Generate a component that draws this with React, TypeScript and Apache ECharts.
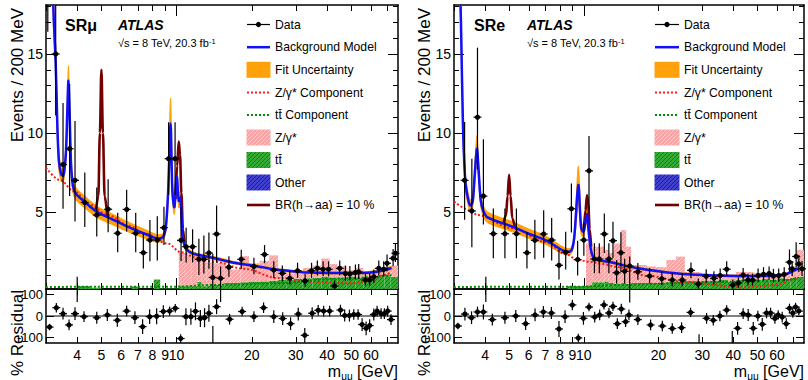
import React, { useEffect, useRef } from "react";
import * as echarts from "echarts";

const FONT = "'Liberation Sans', Arial, Helvetica, sans-serif";

// ---------- axes ----------
const MASS_MIN = 3.0;
const MASS_MAX = 77.0;
const MASS_TICKS = [3, 4, 5, 6, 7, 8, 9, 10, 20, 30, 40, 50, 60, 70];
const MASS_MAJOR_TICKS = [10];
const MASS_LABELS = [4, 5, 6, 7, 8, 9, 10, 20, 30, 40, 50, 60];
const EVENTS_MIN = 0.12;
const EVENTS_MAX = 18.1;
const EVENTS_LABELS = [5, 10, 15];
const EVENTS_MINOR = [1, 2, 3, 4, 6, 7, 8, 9, 11, 12, 13, 14, 16, 17, 18];
const RES_MIN = -127;
const RES_MAX = 127;
const RES_LABELS = [-100, 0, 100];

// ---------- MC histogram binning (GeV) ----------
const BIN_EDGES = [3.0, 4.0, 4.5, 5.0, 6.0, 6.6, 7.0, 8.1, 8.6, 10.2, 10.8, 11.5, 12.1, 12.6, 13.2, 14.1, 14.8, 15.5, 16.5, 18.0, 19.5, 21.5, 23.5, 25.5, 27.5, 29.5, 32.0, 35.0, 38.0, 41.0, 44.0, 48.0, 52.0, 56.0, 60.0, 64.0, 68.0, 72.0, 77.0];

// ================= SRmu =================
const MU_DATA_MASS = [3.05, 3.28, 3.51, 3.73, 3.92, 4.0, 4.29, 4.79, 5.32, 5.81, 6.31, 6.86, 7.36, 7.82, 8.37, 8.9, 9.29, 9.86, 10.42, 10.92, 11.59, 12.28, 12.86, 13.47, 13.96, 14.46, 15.0, 16.2, 18.15, 20.4, 22.5, 24.5, 26.5, 28.4, 30.5, 32.7, 34.7, 36.6, 38.6, 40.6, 42.9, 45.0, 47.4, 49.4, 52.0, 53.6, 57.0, 59.3, 61.6, 64.5, 67.5, 69.6, 73.6, 75.2];
const MU_DATA_VALUE = [21, 15.0, 8.0, 9.0, 7.0, 0.1, 5.6, 4.8, 5.17, 3.65, 5.16, 3.65, 2.42, 3.22, 3.22, 4.0, 8.37, 8.37, 3.2, 2.8, 2.8, 2.0, 2.0, 2.4, 0.85, 3.6, 0.8, 1.5, 2.0, 1.55, 2.3, 1.32, 1.11, 0.8, 1.28, 0.63, 1.28, 1.43, 1.37, 1.37, 0.31, 1.43, 1.1, 1.07, 1.17, 1.2, 0.69, 0.69, 0.9, 1.43, 1.37, 1.75, 2.06, 2.38];
const MU_DATA_ERR_LO = [4.6, 3.9, 2.8, 3.0, 2.6, 0.8, 1.55, 1.35, 1.45, 1.2, 1.4, 1.2, 1.0, 1.35, 1.3, 1.1, 2.3, 2.3, 1.3, 1.0, 1.0, 1.0, 0.9, 1.0, 0.8, 1.8, 1.5, 0.6, 0.6, 0.5, 0.55, 0.5, 0.5, 0.4, 0.45, 0.35, 0.45, 0.45, 0.45, 0.45, 0.25, 0.45, 0.45, 0.4, 0.45, 0.45, 0.35, 0.35, 0.4, 0.45, 0.45, 0.5, 0.5, 0.55];
const MU_DATA_ERR_HI = [4.6, 3.9, 3.9, 4.1, 3.75, 0.8, 1.9, 1.75, 1.9, 1.3, 1.25, 1.3, 1.2, 1.27, 1.5, 1.33, 2.3, 2.3, 2.1, 1.2, 1.1, 1.3, 1.5, 1.3, 1.5, 1.8, 0.75, 0.7, 0.6, 0.55, 0.6, 0.55, 0.5, 0.45, 0.5, 0.45, 0.5, 0.5, 0.5, 0.5, 0.35, 0.5, 0.5, 0.5, 0.5, 0.5, 0.45, 0.45, 0.45, 0.5, 0.5, 0.55, 0.6, 0.6];

const MU_RES_MASS = [3.1, 3.3, 3.51, 3.71, 3.92, 4.26, 4.79, 5.28, 5.79, 6.31, 6.81, 7.31, 7.8, 8.32, 8.85, 9.38, 9.88, 10.38, 10.9, 11.41, 11.9, 12.45, 12.94, 13.47, 13.97, 14.46, 16.3, 18.3, 20.4, 22.3, 24.5, 26.6, 28.6, 30.7, 32.6, 34.9, 36.9, 38.8, 41.0, 45.3, 47.1, 49.2, 51.2, 53.3, 55.3, 57.4, 59.3, 61.6, 63.5, 65.9, 67.9, 70.0, 72.2];
const MU_RES_VALUE = [-52, 39, 11, -42, 11, -3, -8, 5, -20, 23, -8, -50, -3, -1, 21, 23, 36, -106, -3, -3, 22, -12, -8, 13, -150, 44, -15, 21, -3, 39, -3, -12, -36, 9, -91, 13, 27, 23, 23, 28, 2, 2, 7, 7, -40, -58, -45, 7, 23, 11, 11, 23, -17];
const MU_RES_ERR = [15, 22, 28, 25, 30, 25, 28, 28, 30, 25, 30, 35, 35, 38, 30, 22, 20, 20, 40, 38, 42, 40, 45, 40, 103, 35, 25, 22, 25, 25, 30, 30, 30, 30, 35, 28, 25, 25, 25, 25, 28, 28, 25, 25, 30, 32, 30, 28, 25, 25, 25, 25, 25];

const MU_BKG_MASS = [3.0, 3.1, 3.21, 3.28, 3.33, 3.38, 3.45, 3.52, 3.6, 3.65, 3.69, 3.73, 3.78, 3.85, 3.95, 4.2, 4.8, 5.5, 6.5, 7.5, 8.3, 8.8, 9.05, 9.25, 9.46, 9.62, 9.8, 10.02, 10.2, 10.36, 10.55, 10.8, 11.2, 12.0, 13.6, 15.0, 17.0, 20.4, 25.0, 30.0, 34.0, 45.0, 58.0, 65.0, 72.5];
const MU_BKG_VALUE = [40, 30, 18, 14.5, 10.5, 8.2, 7.4, 7.3, 8.6, 11.3, 13.3, 11.2, 8.0, 6.6, 6.15, 5.75, 5.0, 4.55, 4.0, 3.6, 3.33, 3.4, 4.0, 6.3, 10.6, 6.3, 5.3, 7.2, 5.7, 5.9, 3.6, 2.8, 2.5, 2.3, 2.13, 1.98, 1.78, 1.6, 1.35, 1.22, 1.16, 1.13, 1.15, 1.25, 1.45];
const MU_BKG_ERR = [2, 1.5, 1.2, 1.0, 0.8, 0.6, 0.45, 0.45, 0.55, 0.75, 0.95, 0.75, 0.55, 0.42, 0.4, 0.38, 0.36, 0.34, 0.31, 0.28, 0.25, 0.22, 0.3, 0.65, 1.6, 0.65, 0.45, 0.6, 0.45, 0.45, 0.28, 0.16, 0.12, 0.1, 0.1, 0.1, 0.08, 0.08, 0.07, 0.07, 0.07, 0.07, 0.07, 0.08, 0.1];

const MU_ZCOMP_MASS = [3.0, 3.43, 3.88, 4.5, 5.3, 6.5, 7.4, 9.2, 10.4, 12.0, 14.1, 18.6, 25.3, 34.0, 49.6, 59.6, 67.5, 72.5];
const MU_ZCOMP_VALUE = [7.8, 7.0, 6.3, 5.45, 4.8, 4.1, 3.65, 3.0, 2.45, 2.1, 1.85, 1.4, 0.82, 0.58, 0.48, 0.63, 1.0, 1.2];
const MU_TTCOMP_MASS = [3.0, 10.0, 13.6, 25.0, 45.0, 72.5];
const MU_TTCOMP_VALUE = [0.25, 0.27, 0.37, 0.48, 0.78, 1.0];

const MU_SIG_A_MASS = [4.75, 4.86, 4.93, 5.0, 5.07, 5.15, 5.28];
const MU_SIG_A_VALUE = [5.02, 6.0, 10.0, 14.0, 10.0, 6.0, 4.75];
const MU_SIG_B_MASS = [9.9, 10.05, 10.2, 10.32, 10.45, 10.6, 10.75];
const MU_SIG_B_VALUE = [5.8, 7.9, 9.45, 8.6, 6.2, 3.9, 3.0];

const MU_HIST_OTHER = [0, 0, 0, 0, 0, 0, 0, 0, 0, 0, 0, 0, 0, 0, 0, 0, 0, 0, 0, 0, 0, 0, 0, 0, 0, 0.03, 0.05, 0.04, 0.05, 0.05, 0.05, 0.06, 0.05, 0.08, 0.08, 0.1, 0.1, 0.08];
const MU_HIST_TT = [0, 0.3, 0.2, 0.1, 0.1, 0.28, 0.12, 0.72, 0.15, 0.3, 0.3, 0.3, 0.58, 0.3, 0.35, 0.4, 0.35, 0.5, 0.5, 0.55, 0.6, 0.6, 0.65, 0.7, 0.7, 0.75, 0.75, 0.8, 0.85, 0.8, 0.8, 0.85, 0.8, 0.82, 0.77, 0.85, 0.9, 0.82];
const MU_HIST_Z = [0, 0, 0, 0, 0, 0, 0, 0, 0, 2.1, 2.0, 2.0, 1.52, 1.8, 1.45, 1.35, 1.45, 1.14, 0.85, 1.65, 1.15, 1.3, 1.6, 0.55, 0.4, 0.37, 0.65, 0.76, 1.15, 0.85, 0.7, 0.39, 0.6, 0.35, 0.45, 0.5, 0.5, 0.7];

// ================= SRe =================
const E_DATA_MASS = [3.31, 3.54, 3.73, 3.94, 4.03, 4.32, 4.81, 5.35, 5.9, 6.35, 6.89, 7.42, 7.94, 8.45, 8.91, 9.44, 10.0, 10.49, 11.03, 11.54, 12.09, 12.61, 13.1, 13.55, 14.1, 14.6, 15.3, 16.5, 18.4, 20.6, 22.7, 24.9, 27.0, 28.9, 31.1, 33.4, 35.4, 37.6, 39.8, 41.9, 43.8, 45.8, 47.8, 50.3, 52.9, 55.7, 58.0, 60.9, 64.1, 67.3, 69.0, 71.6, 73.4, 75.6];
const E_DATA_VALUE = [7.0, 5.06, 11.0, 6.0, 0.1, 3.62, 3.62, 3.62, 2.42, 3.2, 3.6, 3.22, 1.62, 2.45, 5.2, 1.98, 3.22, 7.6, 2.02, 2.02, 3.6, 2.02, 3.18, 1.15, 2.42, 1.24, 1.57, 1.21, 0.94, 0.77, 0.69, 0.69, 1.3, 0.44, 0.92, 0.8, 0.97, 1.37, 0.37, 0.5, 1.0, 0.69, 0.69, 0.97, 1.05, 1.1, 0.95, 0.97, 1.05, 1.82, 1.4, 2.18, 1.7, 1.4];
const E_DATA_ERR_LO = [2.5, 2.3, 3.3, 1.8, 0.8, 1.55, 1.55, 1.55, 1.0, 1.2, 1.5, 1.3, 0.9, 1.1, 1.5, 1.0, 1.0, 2.5, 0.9, 0.9, 1.2, 0.9, 1.1, 0.7, 1.2, 0.75, 2.3, 0.5, 0.45, 0.4, 0.4, 0.4, 0.5, 0.3, 0.4, 0.4, 0.4, 0.45, 0.3, 0.3, 0.4, 0.35, 0.35, 0.4, 0.4, 0.4, 0.4, 0.4, 0.4, 0.6, 0.45, 0.7, 0.5, 0.45];
const E_DATA_ERR_HI = [3.7, 3.3, 4.4, 3.6, 0.8, 1.6, 1.6, 1.6, 1.3, 1.3, 1.5, 1.4, 1.0, 1.3, 1.6, 1.2, 1.1, 2.2, 1.0, 1.0, 1.3, 1.0, 1.2, 0.8, 1.3, 0.8, 0.6, 0.55, 0.5, 0.45, 0.45, 0.45, 0.5, 0.35, 0.45, 0.45, 0.45, 0.5, 0.35, 0.35, 0.45, 0.4, 0.4, 0.45, 0.45, 0.45, 0.45, 0.45, 0.45, 0.8, 0.5, 0.9, 0.55, 0.5];

const E_RES_MASS = [3.11, 3.32, 3.53, 3.73, 3.94, 4.28, 4.81, 5.32, 5.83, 6.36, 6.87, 7.4, 7.94, 8.4, 8.99, 9.5, 9.96, 10.49, 11.06, 11.58, 12.05, 12.62, 13.1, 13.64, 14.15, 14.73, 15.19, 16.5, 18.57, 20.7, 22.7, 24.75, 26.9, 29.1, 31.2, 33.2, 35.3, 37.6, 39.6, 41.6, 43.8, 45.9, 48.1, 50.2, 52.3, 54.4, 56.5, 58.8, 60.6, 62.9, 65.3, 67.3, 69.4, 71.2, 73.4];
const E_RES_VALUE = [-47, 9, -8, 19, 19, -17, -8, 0, -36, 5, 19, 14, -61, -3, 52, -103, -11, 42, -5, 5, 52, 14, 45, -36, 33, -27, 5, -17, -42, -47, -59, -55, 17, -160, -11, -20, 0, 28, -150, -58, 11, 5, -58, 0, -39, 14, 14, -12, 5, -5, -36, 36, 14, 42, 23];
const E_RES_ERR = [15, 30, 30, 25, 35, 28, 28, 28, 30, 30, 28, 28, 38, 30, 25, 20, 30, 20, 25, 25, 22, 25, 22, 25, 25, 25, 25, 25, 25, 25, 25, 25, 22, 74, 25, 25, 25, 22, 80, 30, 25, 28, 30, 25, 30, 25, 25, 25, 22, 25, 25, 22, 22, 20, 20];

const E_BKG_MASS = [3.0, 3.1, 3.2, 3.26, 3.33, 3.42, 3.49, 3.57, 3.63, 3.71, 3.77, 3.84, 3.93, 4.1, 5.16, 6.0, 7.0, 8.4, 8.9, 9.15, 9.5, 9.75, 9.95, 10.15, 10.3, 10.45, 10.65, 10.9, 11.4, 13.0, 14.6, 18.3, 25.0, 35.0, 45.0, 63.0, 71.0, 73.0];
const E_BKG_VALUE = [40, 26, 17, 10.5, 7.0, 5.8, 5.4, 5.7, 7.2, 9.0, 7.6, 5.8, 5.1, 4.65, 4.06, 3.62, 3.22, 2.5, 2.55, 3.4, 6.7, 4.0, 3.75, 4.4, 4.85, 3.8, 2.7, 2.15, 1.95, 1.8, 1.6, 1.32, 1.07, 0.97, 0.94, 1.0, 1.32, 1.43];
const E_BKG_ERR = [2, 1.5, 1.0, 0.7, 0.5, 0.4, 0.35, 0.4, 0.55, 0.85, 0.55, 0.4, 0.36, 0.34, 0.32, 0.3, 0.27, 0.22, 0.2, 0.32, 1.2, 0.42, 0.38, 0.42, 0.5, 0.32, 0.2, 0.12, 0.1, 0.08, 0.08, 0.07, 0.06, 0.06, 0.06, 0.06, 0.08, 0.1];

const E_ZCOMP_MASS = [3.0, 3.5, 3.72, 5.16, 7.0, 8.4, 9.5, 10.5, 12.0, 13.4, 18.3, 24.9, 43.7, 59.8, 68.3, 73.0];
const E_ZCOMP_VALUE = [5.65, 5.1, 4.8, 3.96, 3.1, 2.35, 1.95, 1.85, 1.7, 1.53, 0.94, 0.58, 0.22, 0.37, 0.73, 0.9];
const E_TTCOMP_MASS = [3.0, 10.0, 13.4, 30.0, 50.0, 73.0];
const E_TTCOMP_VALUE = [0.25, 0.27, 0.37, 0.55, 0.6, 0.75];

const E_SIG_A_MASS = [4.75, 4.86, 4.93, 5.0, 5.07, 5.15, 5.28];
const E_SIG_A_VALUE = [4.3, 4.8, 6.0, 7.35, 6.0, 4.6, 4.0];
const E_SIG_B_MASS = [10.0, 10.15, 10.3, 10.42, 10.55, 10.7];
const E_SIG_B_VALUE = [3.8, 5.1, 6.05, 5.5, 3.9, 2.8];

const E_HIST_OTHER = [0, 0, 0, 0, 0, 0, 0, 0, 0, 0, 0, 0, 0, 0, 0, 0, 0, 0, 0, 0, 0, 0, 0, 0, 0, 0, 0, 0, 0, 0, 0, 0, 0, 0, 0.05, 0.06, 0.08, 0.1];
const E_HIST_TT = [0, 0.05, 0.05, 0.05, 0.05, 0.05, 0.05, 0.1, 0.3, 0.35, 0.55, 0.55, 0.6, 0.5, 0.45, 0.5, 0.45, 0.5, 0.5, 0.5, 0.5, 0.55, 0.6, 0.6, 0.6, 0.65, 0.65, 0.7, 0.6, 0.7, 0.7, 0.7, 0.75, 0.7, 0.75, 0.7, 0.75, 0.8];
const E_HIST_Z = [0, 0, 0, 0, 0, 0, 0, 0, 0, 2.65, 2.25, 2.25, 2.0, 1.9, 2.55, 3.35, 2.35, 1.14, 1.14, 1.05, 1.0, 1.41, 1.57, 0.6, 0.6, 0.35, 0.35, 0.35, 0.35, 0.5, 0.5, 0.45, 0.25, 0.3, 0.25, 0.24, 0.7, 1.7];

// ---------- styling ----------
const C_BLUE = "#1010ff";
const C_ORANGE = "#ffa10a";
const C_RED = "#ff1a1a";
const C_GREEN_LINE = "#008a00";
const C_SIGNAL = "#730000";
const SMOOTH = 0.35;
const CURVE_SMOOTH = 0.3;

const lg = (m: number) => Math.log10(m);
const pts = (ms: number[], vs: number[]) => ms.map((m, i) => [lg(m), vs[i]]);

function hatch(bg: string, fg: string) {
  const s = 4;
  const c = document.createElement("canvas");
  c.width = s;
  c.height = s;
  const ctx = c.getContext("2d")!;
  ctx.fillStyle = bg;
  ctx.fillRect(0, 0, s, s);
  ctx.strokeStyle = fg;
  ctx.lineWidth = 1;
  ctx.beginPath();
  ctx.moveTo(0, s);
  ctx.lineTo(s, 0);
  ctx.moveTo(-1, 1);
  ctx.lineTo(1, -1);
  ctx.moveTo(s - 1, s + 1);
  ctx.lineTo(s + 1, s - 1);
  ctx.stroke();
  return { image: c.toDataURL(), repeat: "repeat", imageWidth: s, imageHeight: s };
}

function pointRenderer(ymin: number, ymax: number) {
  return (params: any, api: any) => {
    const x = api.value(0);
    const v = api.value(1);
    const lo = api.value(2);
    const hi = Math.min(api.value(3), ymax);
    const c = api.coord([x, v]);
    const a = api.coord([x, lo]);
    const b = api.coord([x, hi]);
    const children: any[] = [];
    if (hi > lo) {
      children.push({ type: "line", shape: { x1: c[0], y1: a[1], x2: c[0], y2: b[1] }, style: { stroke: "#000", lineWidth: 1.2 } });
    }
    if (v >= ymin && v <= ymax) {
      children.push({ type: "line", shape: { x1: c[0] - 4, y1: c[1], x2: c[0] + 4, y2: c[1] }, style: { stroke: "#000", lineWidth: 1.2 } });
      children.push({ type: "circle", shape: { cx: c[0], cy: c[1], r: 2.6 }, style: { fill: "#000" } });
    }
    return { type: "group", children };
  };
}

// fit band (polygon) drawn from all knots, through the axes' scales
function bandRenderer(params: any, api: any) {
  if (params.dataIndexInside !== 0) return null;
  const n = params.dataInsideLength;
  const upper: number[][] = [];
  const lower: number[][] = [];
  for (let i = 0; i < n; i++) {
    const x = api.value(0, i);
    upper.push(api.coord([x, api.value(2, i)]));
    lower.push(api.coord([x, api.value(1, i)]));
  }
  return {
    type: "polygon",
    shape: { points: upper.concat(lower.reverse()), smooth: CURVE_SMOOTH },
    style: { fill: C_ORANGE, stroke: C_ORANGE, lineWidth: 1 },
  };
}

function curveRenderer(color: string, width: number) {
  return (params: any, api: any) => {
    if (params.dataIndexInside !== 0) return null;
    const n = params.dataInsideLength;
    const points: number[][] = [];
    for (let i = 0; i < n; i++) points.push(api.coord([api.value(0, i), api.value(1, i)]));
    return { type: "polyline", shape: { points, smooth: CURVE_SMOOTH }, style: { stroke: color, lineWidth: width, fill: null } };
  };
}

function panelSeries(p: any, xi: number, yi: number, xr: number, yr: number, pats: any) {
  const series: any[] = [];
  const base = BIN_EDGES.slice(0, -1).map(() => 0);
  const stack = [
    { h: p.other, fill: pats.other },
    { h: p.tt, fill: pats.tt },
    { h: p.z, fill: pats.z },
  ];
  stack.forEach((d) => {
    const data = BIN_EDGES.slice(0, -1).map((lo, i) => {
      const b0 = base[i];
      const b1 = b0 + d.h[i];
      base[i] = b1;
      return [lg(lo), lg(BIN_EDGES[i + 1]), b0, b1];
    });
    series.push({
      type: "custom", xAxisIndex: xi, yAxisIndex: yi, clip: true, silent: true, z: 1,
      encode: { x: [0, 1], y: [2, 3] }, data,
      renderItem: (params: any, api: any) => {
        const y0 = api.value(2);
        const y1 = api.value(3);
        if (!(y1 > y0)) return null;
        const p0 = api.coord([api.value(0), y0]);
        const p1 = api.coord([api.value(1), y1]);
        return { type: "rect", shape: { x: p0[0], y: p1[1], width: p1[0] - p0[0], height: p0[1] - p1[1] }, style: { fill: d.fill } };
      },
    });
  });
  // fit uncertainty band
  series.push({
    type: "custom", xAxisIndex: xi, yAxisIndex: yi, clip: true, silent: true, z: 2,
    encode: { x: 0, y: [1, 2] },
    data: p.bkgMass.map((m: number, i: number) => [lg(m), p.bkgValue[i] - p.bkgErr[i], p.bkgValue[i] + p.bkgErr[i]]),
    renderItem: bandRenderer,
  });
  const line = (ms: number[], vs: number[], color: string, width: number, type: any, z: number) => ({
    type: "line", xAxisIndex: xi, yAxisIndex: yi, silent: true, z,
    data: pts(ms, vs), smooth: SMOOTH, smoothMonotone: "x", symbol: "none",
    lineStyle: { color, width, type },
  });
  series.push(line(p.zMass, p.zValue, C_RED, 2, [2, 2], 3));
  series.push(line(p.ttMass, p.ttValue, C_GREEN_LINE, 2, [2, 2], 3));
  series.push(line(p.sigAMass, p.sigAValue, C_SIGNAL, 2.6, "solid", 4));
  series.push(line(p.sigBMass, p.sigBValue, C_SIGNAL, 2.6, "solid", 4));
  // background model
  series.push({
    type: "custom", xAxisIndex: xi, yAxisIndex: yi, clip: true, silent: true, z: 5,
    encode: { x: 0, y: 1 },
    data: pts(p.bkgMass, p.bkgValue),
    renderItem: curveRenderer(C_BLUE, 2.5),
  });
  // data
  series.push({
    type: "custom", xAxisIndex: xi, yAxisIndex: yi, clip: false, silent: true, z: 6,
    encode: { x: 0, y: [1, 2, 3] },
    data: p.dataMass.map((m: number, i: number) => [lg(m), p.dataValue[i], p.dataValue[i] - p.dataLo[i], p.dataValue[i] + p.dataHi[i]]),
    renderItem: pointRenderer(EVENTS_MIN, EVENTS_MAX),
  });
  // residual
  series.push({
    type: "line", xAxisIndex: xr, yAxisIndex: yr, silent: true, z: 3, symbol: "none",
    data: [[lg(MASS_MIN), 0], [lg(MASS_MAX), 0]], lineStyle: { color: "#000", width: 1 },
  });
  series.push({
    type: "custom", xAxisIndex: xr, yAxisIndex: yr, clip: true, silent: true, z: 6,
    encode: { x: 0, y: [1, 2, 3] },
    data: p.resMass.map((m: number, i: number) => [lg(m), p.resValue[i], p.resValue[i] - p.resErr[i], p.resValue[i] + p.resErr[i]]),
    renderItem: pointRenderer(RES_MIN, RES_MAX),
  });
  return series;
}

const AX_LINE = { show: true, onZero: false, lineStyle: { color: "#000", width: 1.5 } };

function xAxis(gridIndex: number, position: string, labels: boolean, ticks: number[] = MASS_TICKS, len = 6, line = true) {
  return {
    type: "value", gridIndex, position, min: lg(MASS_MIN), max: lg(MASS_MAX),
    axisLine: line ? AX_LINE : { show: false, onZero: false },
    axisTick: { show: true, inside: true, length: len, customValues: ticks.map(lg), lineStyle: { color: "#000", width: 1 } },
    axisLabel: {
      show: labels, customValues: MASS_LABELS.map(lg), hideOverlap: false, showMinLabel: true, showMaxLabel: true,
      formatter: (v: number) => String(Math.round(Math.pow(10, v))),
      margin: 5, fontSize: 14, color: "#000", fontFamily: FONT,
    },
    splitLine: { show: false },
  };
}

function yAxis(gridIndex: number, position: string, min: number, max: number, ticks: number[], len: number, labels: boolean, line: boolean, fontSize = 14) {
  return {
    type: "value", gridIndex, position, min, max,
    axisLine: line ? AX_LINE : { show: false, onZero: false },
    axisTick: { show: true, inside: true, length: len, customValues: ticks, lineStyle: { color: "#000", width: 1 } },
    axisLabel: {
      show: labels, customValues: ticks, hideOverlap: false, showMinLabel: true, showMaxLabel: true,
      margin: 3, fontSize, color: "#000", fontFamily: FONT,
    },
    splitLine: { show: false },
  };
}

function txt(x: number, y: number, text: string, extra: any = {}, styleExtra: any = {}) {
  return {
    type: "text", x, y, silent: true, ...extra,
    style: {
      text, fill: "#000", fontFamily: FONT, fontSize: 12.2,
      align: "left", verticalAlign: "middle", textAlign: "left", textVerticalAlign: "middle",
      ...styleExtra,
    },
  };
}

function panelGraphics(side: number, pats: any) {
  const els: any[] = [];
  const sx0 = side === 0 ? 247 : 655;
  const sx1 = side === 0 ? 270 : 679;
  const tx = side === 0 ? 275 : 684;
  const rows = [24.5, 47.2, 69.8, 92.5, 115, 137.5, 160, 182.5, 205];
  const lineEl = (y: number, color: string, width: number, dash?: number[]) => ({
    type: "line", silent: true, shape: { x1: sx0, y1: y, x2: sx1, y2: y },
    style: { stroke: color, lineWidth: width, lineDash: dash || null },
  });
  const rectEl = (y: number, fill: any) => ({
    type: "rect", silent: true, shape: { x: sx0 - 0.5, y: y - 8, width: sx1 - sx0 + 1, height: 16 }, style: { fill },
  });
  els.push(lineEl(rows[0], "#000", 1.2));
  els.push({ type: "circle", silent: true, shape: { cx: (sx0 + sx1) / 2, cy: rows[0], r: 2.6 }, style: { fill: "#000" } });
  els.push(lineEl(rows[1], C_BLUE, 2.5));
  els.push(rectEl(rows[2], C_ORANGE));
  els.push(lineEl(rows[3], C_RED, 2, [2, 2]));
  els.push(lineEl(rows[4], C_GREEN_LINE, 2, [2, 2]));
  els.push(rectEl(rows[5], pats.z));
  els.push(rectEl(rows[6], pats.tt));
  els.push(rectEl(rows[7], pats.other));
  els.push(lineEl(rows[8], C_SIGNAL, 2.6));
  const labels = ["Data", "Background Model", "Fit Uncertainty", "Z/γ* Component", "tt\u0304 Component", "Z/γ*", "tt\u0304", "Other", "BR(h\u2192aa) = 10 %"];
  labels.forEach((t, i) => els.push(txt(tx, rows[i], t)));

  // header
  const hx = side === 0 ? 65 : 474;
  const ax = side === 0 ? 118 : 527;
  els.push(txt(hx, 25, side === 0 ? "SRμ" : "SRe", {}, { fontSize: 16, fontWeight: "bold" }));
  els.push(txt(ax, 25, "ATLAS", {}, { fontSize: 14, fontWeight: "bold", fontStyle: "italic" }));
  els.push(txt(ax, 43, "√s = 8 TeV, 20.3 fb{sup|-1}", {}, {
    fontSize: 11,
    rich: { sup: { fontSize: 7.5, lineHeight: 8, verticalAlign: "top", fontFamily: FONT, fill: "#000" } },
  }));

  // axis titles
  const ytx = side === 0 ? 17 : 424;
  els.push(txt(ytx, 8, "Events / 200 MeV", { rotation: Math.PI / 2 }, { fontSize: 17, align: "right", textAlign: "right" }));
  els.push(txt(ytx, 290, "% Residual", { rotation: Math.PI / 2 }, { fontSize: 17, align: "right", textAlign: "right" }));
  const xtx = side === 0 ? 398 : 804;
  els.push(txt(xtx, 371, "{a|m}{b|μμ}{a| [GeV]}", {}, {
    align: "right", textAlign: "right", fontSize: 16,
    rich: {
      a: { fontSize: 16, lineHeight: 20, fontFamily: FONT, fill: "#000" },
      b: { fontSize: 10, lineHeight: 10, verticalAlign: "bottom", fontFamily: FONT, fill: "#000" },
    },
  }));
  return els;
}

function buildOption() {
  const pats = {
    z: hatch("#f5a5a5", "#fbcaca"),
    tt: hatch("#35ab35", "#1d7a1d"),
    other: hatch("#4040cc", "#202080"),
  };
  const mu = {
    dataMass: MU_DATA_MASS, dataValue: MU_DATA_VALUE, dataLo: MU_DATA_ERR_LO, dataHi: MU_DATA_ERR_HI,
    resMass: MU_RES_MASS, resValue: MU_RES_VALUE, resErr: MU_RES_ERR,
    bkgMass: MU_BKG_MASS, bkgValue: MU_BKG_VALUE, bkgErr: MU_BKG_ERR,
    zMass: MU_ZCOMP_MASS, zValue: MU_ZCOMP_VALUE, ttMass: MU_TTCOMP_MASS, ttValue: MU_TTCOMP_VALUE,
    sigAMass: MU_SIG_A_MASS, sigAValue: MU_SIG_A_VALUE, sigBMass: MU_SIG_B_MASS, sigBValue: MU_SIG_B_VALUE,
    other: MU_HIST_OTHER, tt: MU_HIST_TT, z: MU_HIST_Z,
  };
  const el = {
    dataMass: E_DATA_MASS, dataValue: E_DATA_VALUE, dataLo: E_DATA_ERR_LO, dataHi: E_DATA_ERR_HI,
    resMass: E_RES_MASS, resValue: E_RES_VALUE, resErr: E_RES_ERR,
    bkgMass: E_BKG_MASS, bkgValue: E_BKG_VALUE, bkgErr: E_BKG_ERR,
    zMass: E_ZCOMP_MASS, zValue: E_ZCOMP_VALUE, ttMass: E_TTCOMP_MASS, ttValue: E_TTCOMP_VALUE,
    sigAMass: E_SIG_A_MASS, sigAValue: E_SIG_A_VALUE, sigBMass: E_SIG_B_MASS, sigBValue: E_SIG_B_VALUE,
    other: E_HIST_OTHER, tt: E_HIST_TT, z: E_HIST_Z,
  };
  const grids = [
    { left: 46, top: 5, width: 352, height: 284 },
    { left: 46, top: 289, width: 352, height: 54 },
    { left: 454, top: 5, width: 350, height: 284 },
    { left: 454, top: 289, width: 350, height: 54 },
  ].map((g) => ({ ...g, containLabel: false, outerBoundsMode: "none", show: false }));

  const xAxes = [
    xAxis(0, "bottom", false), xAxis(0, "top", false), xAxis(1, "bottom", true), xAxis(1, "top", false),
    xAxis(2, "bottom", false), xAxis(2, "top", false), xAxis(3, "bottom", true), xAxis(3, "top", false),
    xAxis(0, "top", false, MASS_MAJOR_TICKS, 11, false), xAxis(2, "top", false, MASS_MAJOR_TICKS, 11, false),
    xAxis(0, "bottom", false, MASS_MAJOR_TICKS, 11, false), xAxis(2, "bottom", false, MASS_MAJOR_TICKS, 11, false),
  ];
  const yAxes = [
    yAxis(0, "left", EVENTS_MIN, EVENTS_MAX, EVENTS_LABELS, 10, true, true),
    yAxis(0, "left", EVENTS_MIN, EVENTS_MAX, EVENTS_MINOR, 5, false, false),
    yAxis(0, "right", EVENTS_MIN, EVENTS_MAX, EVENTS_LABELS, 10, false, true),
    yAxis(0, "right", EVENTS_MIN, EVENTS_MAX, EVENTS_MINOR, 5, false, false),
    yAxis(1, "left", RES_MIN, RES_MAX, RES_LABELS, 8, true, true, 13),
    yAxis(1, "right", RES_MIN, RES_MAX, RES_LABELS, 8, false, true),
    yAxis(2, "left", EVENTS_MIN, EVENTS_MAX, EVENTS_LABELS, 10, true, true),
    yAxis(2, "left", EVENTS_MIN, EVENTS_MAX, EVENTS_MINOR, 5, false, false),
    yAxis(2, "right", EVENTS_MIN, EVENTS_MAX, EVENTS_LABELS, 10, false, true),
    yAxis(2, "right", EVENTS_MIN, EVENTS_MAX, EVENTS_MINOR, 5, false, false),
    yAxis(3, "left", RES_MIN, RES_MAX, RES_LABELS, 8, true, true, 13),
    yAxis(3, "right", RES_MIN, RES_MAX, RES_LABELS, 8, false, true),
  ];
  const series = [
    ...panelSeries(mu, 0, 0, 2, 4, pats),
    ...panelSeries(el, 4, 6, 6, 10, pats),
  ];
  return {
    animation: false,
    backgroundColor: "#fff",
    textStyle: { fontFamily: FONT },
    grid: grids,
    xAxis: xAxes,
    yAxis: yAxes,
    series,
    graphic: { elements: [...panelGraphics(0, pats), ...panelGraphics(1, pats)] },
  };
}

export default function App() {
  const ref = useRef<HTMLDivElement>(null);
  useEffect(() => {
    if (!ref.current) return;
    const chart = echarts.init(ref.current, undefined, { renderer: "svg" });
    chart.setOption(buildOption() as any);
    return () => chart.dispose();
  }, []);
  return <div ref={ref} style={{ position: "fixed", left: 0, top: 0, width: 808, height: 380, background: "#fff" }} />;
}
